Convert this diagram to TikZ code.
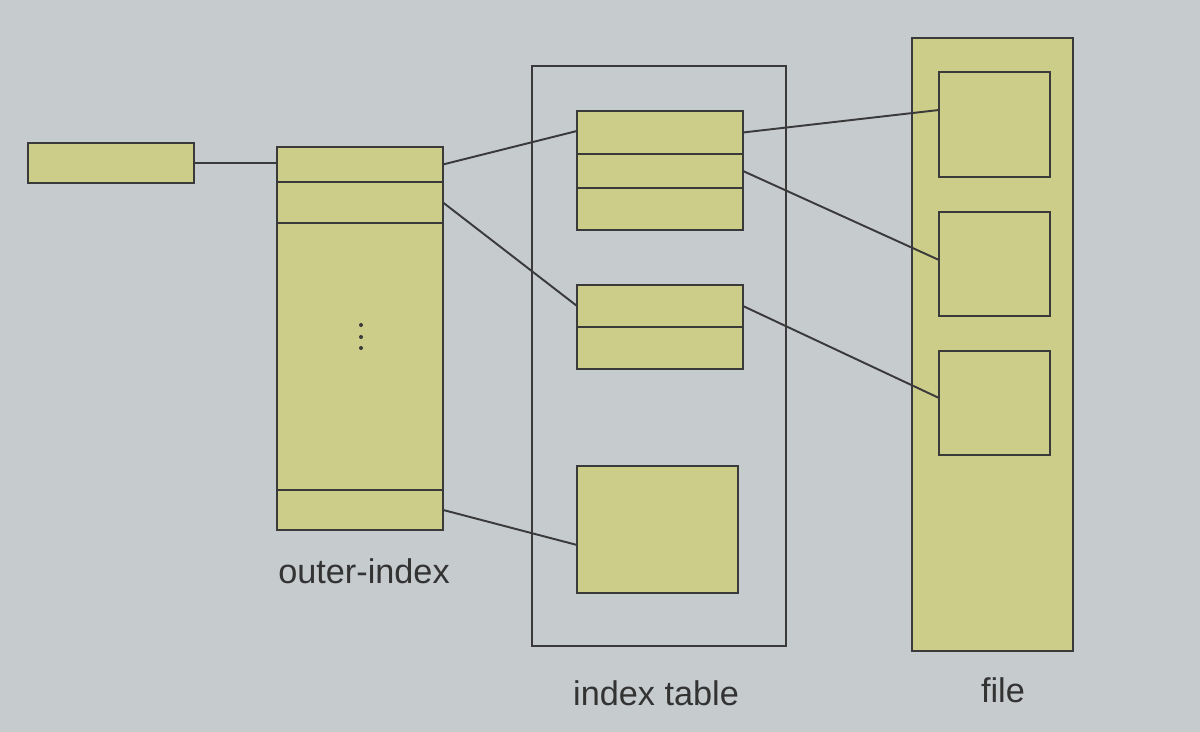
\documentclass[tikz,border=0pt]{standalone}
\usepackage{fontspec}
\setmainfont{Liberation Sans}
\usetikzlibrary{positioning}
\definecolor{slate}{HTML}{C6CBCE}
\definecolor{straw}{HTML}{CDCD8A}
\definecolor{edge}{HTML}{3A3A3A}
\definecolor{ink}{HTML}{333333}

\begin{document}
\begin{tikzpicture}[x=0.02cm,y=-0.02cm, node distance=0pt,
  cell/.style={draw=edge,fill=straw,line width=1.2pt,inner sep=0pt,outer sep=0pt,minimum width=3.32cm},
  frame/.style={draw=edge,line width=1.1pt,inner sep=0pt,outer sep=0pt},
  link/.style={draw=edge,line width=1.1pt},
  lbl/.style={font=\fontsize{19.5}{23}\selectfont,text=ink}]
  \fill[slate] (0,0) rectangle (1200,732);
  \useasboundingbox (0,0) rectangle (1200,732);
  % pointer and outer index
  \node[cell,minimum height=0.8cm,anchor=north west] (ptr) at (28,143) {};
  \node[cell,minimum height=0.7cm,anchor=north west] (o1) at (277,147) {};
  \node[cell,minimum height=0.82cm,below=of o1] (o2) {};
  \node[cell,minimum height=5.34cm,below=of o2] (omid) {};
  \node[cell,minimum height=0.8cm,below=of omid] (olast) {};
  \foreach \y in {325,337,348} \fill[edge] (361,\y) circle (2);
  \node[lbl] (outerlbl) at (364,571) {outer-index};
  % index table
  \node[frame,minimum width=5.08cm,minimum height=11.6cm,anchor=north west] (itab) at (532,66) {};
  \node[cell,minimum height=0.86cm,anchor=north west] (a1) at (577,111) {};
  \node[cell,minimum height=0.68cm,below=of a1] (a2) {};
  \node[cell,minimum height=0.84cm,below=of a2] (a3) {};
  \node[cell,minimum height=0.84cm,anchor=north west] (b1) at (577,285) {};
  \node[cell,minimum height=0.84cm,below=of b1] (b2) {};
  \node[cell,minimum width=3.22cm,minimum height=2.54cm,anchor=north west] (c1) at (577,466) {};
  \node[lbl] (itablbl) at (656,693) {index table};
  % file
  \node[cell,minimum width=3.22cm,minimum height=12.26cm,anchor=north west] (file) at (912,38) {};
  \node[cell,minimum width=2.22cm,minimum height=2.1cm,anchor=north west] (f1) at (939,72) {};
  \node[cell,minimum width=2.22cm,minimum height=2.08cm,anchor=north west] (f2) at (939,212) {};
  \node[cell,minimum width=2.22cm,minimum height=2.08cm,anchor=north west] (f3) at (939,351) {};
  \node[lbl] (filelbl) at (1003,690) {file};
  % links
  \draw[link] (ptr.east) -- (ptr.east -| o1.west);
  \draw[link] (o1.east) -- ([yshift=0.03cm]a1.west);
  \draw[link] (o2.east) -- (b1.west);
  \draw[link] (olast.east) -- ([yshift=-0.31cm]c1.west);
  \draw[link] (a1.east) -- ([yshift=0.29cm]f1.west);
  \draw[link] (a2.east) -- ([yshift=0.08cm]f2.west);
  \draw[link] (b1.east) -- ([yshift=0.1cm]f3.west);
\end{tikzpicture}
\end{document}
